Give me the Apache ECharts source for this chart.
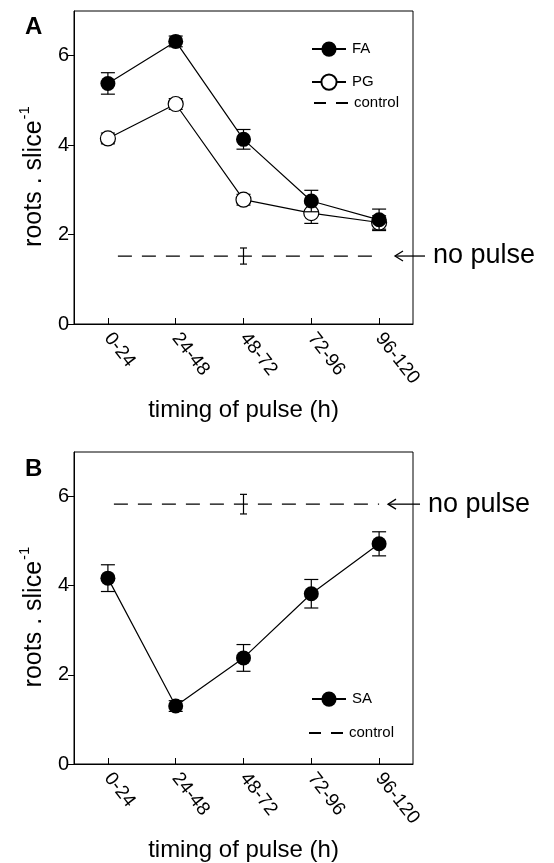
<!DOCTYPE html>
<html>
<head>
<meta charset="utf-8">
<script src="https://cdn.jsdelivr.net/npm/echarts@6/dist/echarts.min.js"></script>
<style>
html,body{margin:0;padding:0;background:#fff;}
#c{width:554px;height:863px;}
</style>
</head>
<body>
<div id="c"></div>
<script>
// ---- data ----
const categories = ['0-24', '24-48', '48-72', '72-96', '96-120'];
const yTicks = [0, 2, 4, 6];
const faValues = [5.38, 6.32, 4.13, 2.75, 2.33];
const faErrors = [0.24, 0.12, 0.22, 0.24, 0.24];
const pgValues = [4.15, 4.92, 2.78, 2.48, 2.27];
const pgErrors = [0.12, 0.12, 0.12, 0.23, 0.15];
const controlA = 1.52;
const controlAError = 0.18;
const saValues = [4.17, 1.30, 2.38, 3.82, 4.94];
const saErrors = [0.30, 0.12, 0.30, 0.32, 0.27];
const controlB = 5.83;
const controlBError = 0.22;
const controlErrorCategory = '48-72';

// ---- helpers ----
const FONT = "'Liberation Sans', Arial, Helvetica, sans-serif";
function errRender(capW) {
  return function (params, api) {
    const x = api.value(0), y = api.value(1), e = api.value(2);
    const hi = api.coord([x, y + e]);
    const lo = api.coord([x, y - e]);
    const st = {stroke: '#000', lineWidth: 1.2};
    return {
      type: 'group',
      children: [
        {type: 'line', shape: {x1: hi[0], y1: hi[1], x2: lo[0], y2: lo[1]}, style: st},
        {type: 'line', shape: {x1: hi[0] - capW / 2, y1: hi[1], x2: hi[0] + capW / 2, y2: hi[1]}, style: st},
        {type: 'line', shape: {x1: lo[0] - capW / 2, y1: lo[1], x2: lo[0] + capW / 2, y2: lo[1]}, style: st}
      ]
    };
  };
}
function errData(vals, errs) { return vals.map((v, i) => [categories[i], v, errs[i]]); }

const GRID_LEFT = 74, GRID_W = 339, GRID_H = 313;
const gridTops = [11, 452];

function xAxisFor(i) {
  return {
    gridIndex: i, type: 'category', data: categories, boundaryGap: true,
    axisLine: {show: true, lineStyle: {color: '#000', width: 1}},
    axisTick: {show: true, inside: true, length: 6, alignWithLabel: true, lineStyle: {color: '#000', width: 1}},
    axisLabel: {rotate: -52, margin: 11, fontSize: 19, color: '#000', fontFamily: FONT},
    splitLine: {show: false},
    name: 'timing of pulse (h)', nameLocation: 'middle', nameGap: 74,
    nameTextStyle: {fontSize: 24, color: '#000', fontFamily: FONT}
  };
}
function yAxisFor(i) {
  return {
    gridIndex: i, type: 'value', min: 0, max: 7,
    axisLine: {show: true, lineStyle: {color: '#000', width: 1}},
    axisTick: {show: true, inside: false, length: 6, customValues: yTicks, lineStyle: {color: '#000', width: 1}},
    axisLabel: {customValues: yTicks, margin: 5, fontSize: 20, color: '#000', fontFamily: FONT},
    splitLine: {show: false},
    name: '{n|roots . slice}{s|-1}', nameLocation: 'middle', nameRotate: 90, nameGap: 27,
    nameTextStyle: {
      color: '#000', fontFamily: FONT, padding: [0, 18, 0, 0],
      rich: {
        n: {fontSize: 25, lineHeight: 30, color: '#000', fontFamily: FONT, verticalAlign: 'bottom'},
        s: {fontSize: 15, lineHeight: 30, color: '#000', fontFamily: FONT, verticalAlign: 'top', padding: [0, 0, 13, 1]}
      }
    }
  };
}

const legendText = {fontSize: 15, color: '#000', fontFamily: FONT, padding: [0, 0, 0, 1]};
function legendAt(name, left, cy) {
  return {
    data: [name], left: left, top: cy - 9.5,
    itemWidth: 34, itemHeight: 19, textStyle: legendText, selectedMode: false
  };
}
const controlLegendItem = {name: 'control', itemStyle: {opacity: 0}, lineStyle: {type: [12, 10], dashOffset: 0}};

const option = {
  animation: false,
  backgroundColor: '#fff',
  title: [
    {text: 'A', left: 20, top: 10, textStyle: {fontSize: 24, fontWeight: 'bold', color: '#000', fontFamily: FONT}},
    {text: 'B', left: 20, top: 452, textStyle: {fontSize: 24, fontWeight: 'bold', color: '#000', fontFamily: FONT}}
  ],
  grid: gridTops.map(t => ({left: GRID_LEFT, top: t, width: GRID_W, height: GRID_H, show: true, borderColor: '#000', borderWidth: 1, backgroundColor: 'transparent', containLabel: false})),
  xAxis: [xAxisFor(0), xAxisFor(1)],
  yAxis: [yAxisFor(0), yAxisFor(1)],
  legend: [
    legendAt('FA', 306, 46),
    legendAt('PG', 306, 78),
    legendAt(controlLegendItem, 308, 100),
    legendAt('SA', 306, 696),
    legendAt(controlLegendItem, 303, 730)
  ],
  series: [
    {name: 'PG err', type: 'custom', xAxisIndex: 0, yAxisIndex: 0, renderItem: errRender(14), data: errData(pgValues, pgErrors), z: 1, silent: true},
    {name: 'PG', type: 'line', xAxisIndex: 0, yAxisIndex: 0, data: pgValues, symbol: 'circle', symbolSize: 15,
     itemStyle: {color: '#fff', borderColor: '#000', borderWidth: 1.2}, lineStyle: {color: '#000', width: 1.2}, z: 2, emphasis: {disabled: true}},
    {name: 'FA err', type: 'custom', xAxisIndex: 0, yAxisIndex: 0, renderItem: errRender(14), data: errData(faValues, faErrors), z: 3, silent: true},
    {name: 'FA', type: 'line', xAxisIndex: 0, yAxisIndex: 0, data: faValues, symbol: 'circle', symbolSize: 15,
     itemStyle: {color: '#000'}, lineStyle: {color: '#000', width: 1.2}, z: 4, emphasis: {disabled: true}},
    {name: 'control', type: 'line', xAxisIndex: 0, yAxisIndex: 0, data: [[categories[0], controlA], [categories[categories.length - 1], controlA]],
     symbol: 'none', lineStyle: {color: '#000', width: 1.3, type: [14, 10], dashOffset: 14}, z: 2, emphasis: {disabled: true}},
    {name: 'control err A', type: 'custom', xAxisIndex: 0, yAxisIndex: 0, renderItem: errRender(7), data: [[controlErrorCategory, controlA, controlAError]], z: 3, silent: true},

    {name: 'SA err', type: 'custom', xAxisIndex: 1, yAxisIndex: 1, renderItem: errRender(14), data: errData(saValues, saErrors), z: 3, silent: true},
    {name: 'SA', type: 'line', xAxisIndex: 1, yAxisIndex: 1, data: saValues, symbol: 'circle', symbolSize: 15,
     itemStyle: {color: '#000'}, lineStyle: {color: '#000', width: 1.2}, z: 4, emphasis: {disabled: true}},
    {name: 'control', type: 'line', xAxisIndex: 1, yAxisIndex: 1, data: [[categories[0], controlB], [categories[categories.length - 1], controlB]],
     symbol: 'none', lineStyle: {color: '#000', width: 1.3, type: [14, 10], dashOffset: 18}, z: 2, emphasis: {disabled: true}},
    {name: 'control err B', type: 'custom', xAxisIndex: 1, yAxisIndex: 1, renderItem: errRender(7), data: [[controlErrorCategory, controlB, controlBError]], z: 3, silent: true}
  ]
};

const chart = echarts.init(document.getElementById('c'), null, {renderer: 'canvas'});
chart.setOption(option);

// "no pulse" arrow annotations placed at the control level via the axes
function annotation(gridIndex, value, headOff, tailOff, textOff) {
  const p = chart.convertToPixel({gridIndex: gridIndex}, [categories[0], value]);
  const y = p[1];
  const R = GRID_LEFT + GRID_W;
  const hx = R + headOff;
  return [
    {type: 'line', shape: {x1: hx, y1: y, x2: R + tailOff, y2: y}, style: {stroke: '#000', lineWidth: 1.3}},
    {type: 'polyline', shape: {points: [[hx + 8, y - 5], [hx, y], [hx + 8, y + 5]]}, style: {stroke: '#000', lineWidth: 1.3, fill: null}},
    {type: 'text', x: R + textOff, y: y, style: {text: 'no pulse', fontSize: 27, fontFamily: FONT, fill: '#000', verticalAlign: 'middle', align: 'left'}}
  ];
}
chart.setOption({
  graphic: [].concat(annotation(0, controlA, -18, 12, 20), annotation(1, controlB, -25, 7, 15))
});
</script>
</body>
</html>
